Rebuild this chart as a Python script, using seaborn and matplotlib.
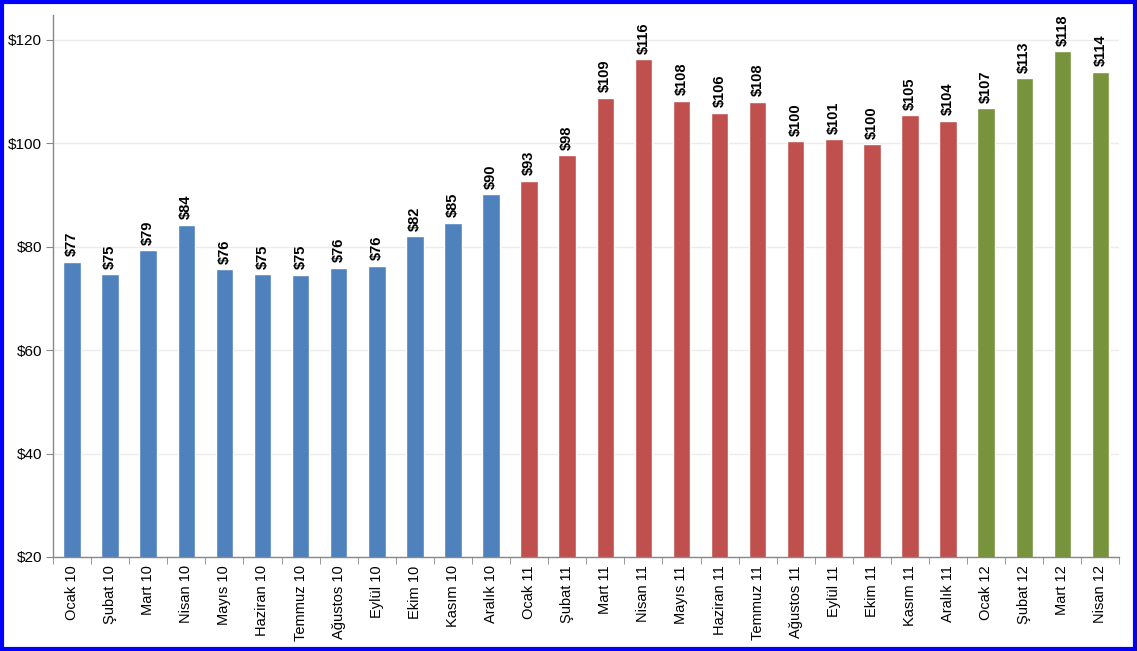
import matplotlib
matplotlib.use("Agg")
import matplotlib.pyplot as plt
import matplotlib.patches as mpatches
import seaborn as sns
import pandas as pd
import numpy as np

months = ["Ocak", "Şubat", "Mart", "Nisan", "Mayıs", "Haziran", "Temmuz",
          "Ağustos", "Eylül", "Ekim", "Kasım", "Aralık"]
labels = ([f"{m} 10" for m in months] + [f"{m} 11" for m in months]
          + [f"{m} 12" for m in months[:4]])
years = ["2010"] * 12 + ["2011"] * 12 + ["2012"] * 4
values = [77.1, 74.7, 79.3, 84.2, 75.6, 74.7, 74.6, 75.9, 76.3, 82.0, 84.6, 90.1,
          92.7, 97.7, 108.8, 116.2, 108.2, 105.9, 108.0, 100.4, 100.8, 99.8, 105.4, 104.3,
          106.8, 112.6, 117.8, 113.8]
colors = {"2010": "#4F81BD", "2011": "#C0504D", "2012": "#77933C"}

df = pd.DataFrame({"label": labels, "year": years, "value": values})

sns.set_style("white")
plt.rcParams["font.family"] = ["Liberation Sans", "DejaVu Sans"]
plt.rcParams["text.color"] = "black"
plt.rcParams["xtick.color"] = "black"
plt.rcParams["ytick.color"] = "black"

fig = plt.figure(figsize=(11.37, 6.51), dpi=100)
ax = fig.add_axes([0.0466, 0.1444, 0.938, 0.8326])

sns.barplot(data=df, x="label", y="value", hue="year", palette=colors,
            dodge=False, width=0.46, legend=False, ax=ax, saturation=1)

for i, v in enumerate(values):
    ax.annotate(f"${v:.0f}", (i, v), xytext=(0, 4), textcoords="offset points",
                ha="center", va="bottom", rotation=90, fontsize=10.5,
                fontweight="bold", color="black")

ax.set_ylim(20, 124.8)
ax.set_xlim(-0.5, len(values) - 0.5)
ax.set_yticks([20, 40, 60, 80, 100, 120])
ax.set_yticklabels([f"${t}" for t in [20, 40, 60, 80, 100, 120]], fontsize=11)
ax.set_xticks(range(len(labels)))
ax.set_xticklabels(labels, rotation=90, fontsize=10.5)
ax.set_xticks(np.arange(-0.5, len(labels), 1), minor=True)
ax.tick_params(axis="x", which="major", bottom=True, length=0, pad=6, labelcolor="black")
ax.tick_params(axis="x", which="minor", bottom=True, length=5, color="#888888",
               direction="out")
ax.tick_params(axis="y", left=True, length=5, color="#888888", direction="out", pad=3,
               labelcolor="black")
ax.set_xlabel("")
ax.set_ylabel("")
ax.grid(axis="y", color="#EBEBEB", linewidth=1)
ax.set_axisbelow(True)
for s in ["top", "right"]:
    ax.spines[s].set_visible(False)
for s in ["left", "bottom"]:
    ax.spines[s].set_color("#888888")
    ax.spines[s].set_linewidth(1)

fig.patches.append(mpatches.Rectangle((0.0015, 0.0025), 0.997, 0.995, transform=fig.transFigure,
                                      fill=False, edgecolor="#0000FF", linewidth=3))

fig.savefig("out.png", dpi=100)
